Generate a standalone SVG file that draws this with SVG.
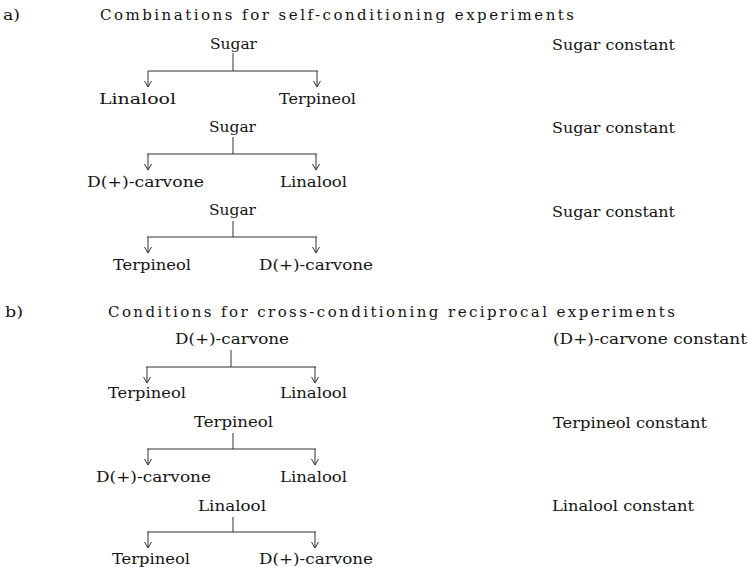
<svg xmlns="http://www.w3.org/2000/svg" width="748" height="567" viewBox="0 0 748 567">
<style>
text{font-family:"DejaVu Serif","Liberation Serif",serif;fill:#141414;}
.t{font-size:14.5px;}
.h{font-size:15px;}
.c line{stroke:#333;stroke-width:1;}
.arr{marker-end:url(#ah);}
</style>
<defs>
<marker id="ah" markerUnits="userSpaceOnUse" markerWidth="10" markerHeight="10" viewBox="0 0 10 10" refX="8" refY="5" orient="auto">
<path d="M2,1.5 L8,5 L2,8.5" fill="none" stroke="#333" stroke-width="1"/>
</marker>
</defs>
<rect width="748" height="567" fill="#fff"/>

<g id="section-a">
<text class="t" x="3" y="20" textLength="17" lengthAdjust="spacingAndGlyphs">a)</text>
<text class="h" x="100" y="20" textLength="474" lengthAdjust="spacing">Combinations for self-conditioning experiments</text>
</g>
<g id="section-b">
<text class="t" x="5" y="317" textLength="18" lengthAdjust="spacingAndGlyphs">b)</text>
<text class="h" x="108" y="317" textLength="567" lengthAdjust="spacing">Conditions for cross-conditioning reciprocal experiments</text>
</g>

<g id="a1-root"><text class="t" x="210" y="49" textLength="47" lengthAdjust="spacingAndGlyphs">Sugar</text></g>
<g id="a1-left"><text class="t" x="99" y="104" textLength="77" lengthAdjust="spacingAndGlyphs">Linalool</text></g>
<g id="a1-right"><text class="t" x="279" y="104" textLength="77" lengthAdjust="spacingAndGlyphs">Terpineol</text></g>
<g id="a1-note"><text class="t" x="552" y="50" textLength="123" lengthAdjust="spacingAndGlyphs">Sugar constant</text></g>

<g id="a2-root"><text class="t" x="209" y="132" textLength="47" lengthAdjust="spacingAndGlyphs">Sugar</text></g>
<g id="a2-left"><text class="t" x="87" y="187" textLength="117" lengthAdjust="spacingAndGlyphs">D(+)-carvone</text></g>
<g id="a2-right"><text class="t" x="280" y="187" textLength="67" lengthAdjust="spacingAndGlyphs">Linalool</text></g>
<g id="a2-note"><text class="t" x="552" y="133" textLength="123" lengthAdjust="spacingAndGlyphs">Sugar constant</text></g>

<g id="a3-root"><text class="t" x="209" y="215" textLength="47" lengthAdjust="spacingAndGlyphs">Sugar</text></g>
<g id="a3-left"><text class="t" x="113" y="270" textLength="78" lengthAdjust="spacingAndGlyphs">Terpineol</text></g>
<g id="a3-right"><text class="t" x="259" y="270" textLength="114" lengthAdjust="spacingAndGlyphs">D(+)-carvone</text></g>
<g id="a3-note"><text class="t" x="552" y="217" textLength="123" lengthAdjust="spacingAndGlyphs">Sugar constant</text></g>

<g id="b1-root"><text class="t" x="175" y="344" textLength="114" lengthAdjust="spacingAndGlyphs">D(+)-carvone</text></g>
<g id="b1-left"><text class="t" x="108" y="398" textLength="78" lengthAdjust="spacingAndGlyphs">Terpineol</text></g>
<g id="b1-right"><text class="t" x="280" y="398" textLength="67" lengthAdjust="spacingAndGlyphs">Linalool</text></g>
<g id="b1-note"><text class="t" x="553" y="344" textLength="194" lengthAdjust="spacingAndGlyphs">(D+)-carvone constant</text></g>

<g id="b2-root"><text class="t" x="194" y="427" textLength="79" lengthAdjust="spacingAndGlyphs">Terpineol</text></g>
<g id="b2-left"><text class="t" x="96" y="482" textLength="115" lengthAdjust="spacingAndGlyphs">D(+)-carvone</text></g>
<g id="b2-right"><text class="t" x="280" y="482" textLength="67" lengthAdjust="spacingAndGlyphs">Linalool</text></g>
<g id="b2-note"><text class="t" x="553" y="428" textLength="154" lengthAdjust="spacingAndGlyphs">Terpineol constant</text></g>

<g id="b3-root"><text class="t" x="198" y="511" textLength="68" lengthAdjust="spacingAndGlyphs">Linalool</text></g>
<g id="b3-left"><text class="t" x="112" y="564" textLength="78" lengthAdjust="spacingAndGlyphs">Terpineol</text></g>
<g id="b3-right"><text class="t" x="259" y="564" textLength="114" lengthAdjust="spacingAndGlyphs">D(+)-carvone</text></g>
<g id="b3-note"><text class="t" x="552" y="511" textLength="142" lengthAdjust="spacingAndGlyphs">Linalool constant</text></g>

<g id="connectors" class="c">
<line x1="233" y1="53" x2="233" y2="71"/>
<line x1="148" y1="71" x2="318" y2="71"/>
<line class="arr" x1="148" y1="71" x2="148" y2="87"/>
<line class="arr" x1="317" y1="71" x2="317" y2="87"/>

<line x1="233" y1="137" x2="233" y2="154"/>
<line x1="147" y1="154" x2="317" y2="154"/>
<line class="arr" x1="148" y1="154" x2="148" y2="170"/>
<line class="arr" x1="316" y1="154" x2="316" y2="170"/>

<line x1="233" y1="221" x2="233" y2="237"/>
<line x1="147" y1="237" x2="317" y2="237"/>
<line class="arr" x1="148" y1="237" x2="148" y2="253"/>
<line class="arr" x1="316" y1="237" x2="316" y2="253"/>

<line x1="231" y1="350" x2="231" y2="367"/>
<line x1="146" y1="367" x2="316" y2="367"/>
<line class="arr" x1="147" y1="367" x2="147" y2="383"/>
<line class="arr" x1="315" y1="367" x2="315" y2="383"/>

<line x1="233" y1="433" x2="233" y2="449"/>
<line x1="147" y1="449" x2="316" y2="449"/>
<line class="arr" x1="148" y1="449" x2="148" y2="465"/>
<line class="arr" x1="315" y1="449" x2="315" y2="465"/>

<line x1="233" y1="517" x2="233" y2="532"/>
<line x1="147" y1="532" x2="316" y2="532"/>
<line class="arr" x1="148" y1="532" x2="148" y2="548"/>
<line class="arr" x1="315" y1="532" x2="315" y2="548"/>
</g>
</svg>
